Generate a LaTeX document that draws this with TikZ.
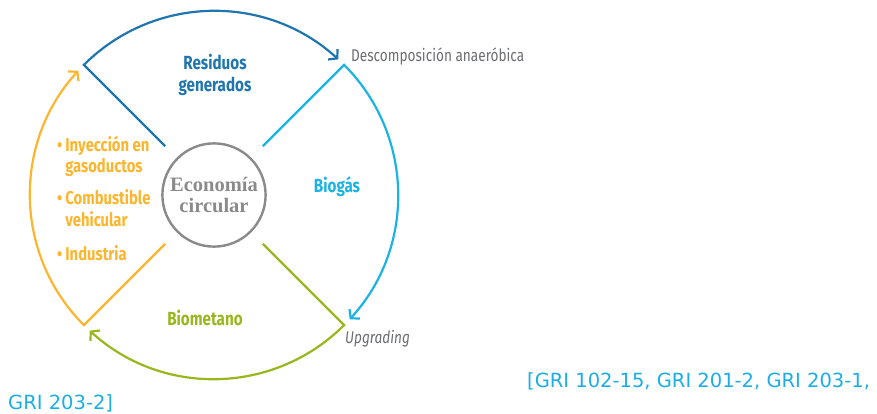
\documentclass[tikz,border=0pt]{standalone}
\usepackage{fontspec}
\usetikzlibrary{arrows.meta}
\newfontfamily\condfont{Fira Sans}[FakeStretch=0.8]
\newfontfamily\ecofont{Liberation Serif}
\newfontfamily\grifont{DejaVu Sans}
\definecolor{darkblue}{HTML}{1F76AE}
\definecolor{lightblue}{HTML}{1BB3E3}
\definecolor{leaf}{HTML}{97B71C}
\definecolor{amber}{HTML}{FCB52F}
\definecolor{ring}{HTML}{8A8A8A}
\definecolor{note}{HTML}{6C6D70}
\definecolor{gri}{HTML}{1BAEE5}

\begin{document}
\begin{tikzpicture}[x=1pt, y=1pt,
    flow/.style={line width=2.2pt, -{Straight Barb[length=6pt,width=14pt,line width=2.2pt]}},
    stage/.style={font=\condfont\bfseries\fontsize{19}{22}\selectfont, align=center},
    step note/.style={font=\condfont\fontsize{17}{20}\selectfont, text=note, anchor=west, inner sep=0pt}]
  \useasboundingbox (0,0) rectangle (877,413);

  \begin{scope}[shift={(214,218)}]
    \node[circle, draw=ring, line width=2.4pt, minimum size=102pt, align=center,
          text=ring, font=\ecofont\bfseries\fontsize{20.5}{21}\selectfont] (eco) at (0,0) {Econom\'ia\\circular};

    % corners and inner ends of the four sectors
    \foreach \name/\ang in {res/135, bio/45, upg/-45, met/225} {
      \coordinate (\name-in) at (\ang:69);
      \coordinate (\name-out) at (\ang:184);
    }

    \draw[flow, darkblue] (res-in) -- (res-out) arc[start angle=135, end angle=47.5, radius=184];
    \draw[flow, lightblue] (bio-in) -- (bio-out) arc[start angle=45, end angle=-42.5, radius=184];
    \draw[flow, leaf] (upg-in) -- (upg-out) arc[start angle=-45, end angle=-132.5, radius=184];
    \draw[flow, amber] (met-in) -- (met-out) arc[start angle=225, end angle=137.5, radius=184];
  \end{scope}

  \node[stage, text=darkblue] (residuos) at (215,338) {Residuos\\generados};
  \node[stage, text=lightblue] (biogas) at (337,226) {Biog\'as};
  \node[stage, text=leaf] (biometano) at (205,95) {Biometano};
  \node[step note] (descomp) at (351,356) {Descomposici\'on anaer\'obica};
  \node[step note, font=\condfont\itshape\fontsize{17}{20}\selectfont] (upgrading) at (345,74) {Upgrading};

  \node[anchor=north west, inner sep=0pt, text=amber,
        font=\condfont\bfseries\fontsize{18.5}{21}\selectfont] (usos) at (57,277) {%
    \begin{tabular}{@{}l@{\,}l@{}}
      \textbullet & Inyecci\'on en\\
                  & gasoductos\\[11pt]
      \textbullet & Combustible\\
                  & vehicular\\[13pt]
      \textbullet & Industria
    \end{tabular}};

  \node[anchor=west, inner sep=0pt, text=gri, font=\grifont\fontsize{19.5}{22}\selectfont] (gri1) at (527,32) {[GRI 102-15, GRI 201-2, GRI 203-1,};
  \node[anchor=west, inner sep=0pt, text=gri, font=\grifont\fontsize{19.5}{22}\selectfont] (gri2) at (8,10) {GRI 203-2]};
\end{tikzpicture}
\end{document}
